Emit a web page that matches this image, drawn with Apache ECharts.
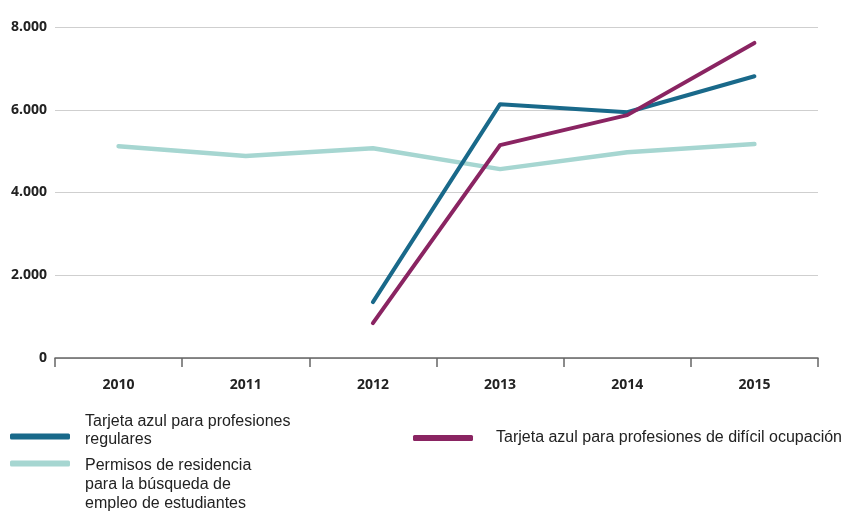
<!DOCTYPE html>
<html>
<head>
<meta charset="utf-8">
<script src="https://cdn.jsdelivr.net/npm/echarts@6/dist/echarts.min.js"></script>
<style>html,body{margin:0;padding:0;background:#fff;}#c{width:845px;height:511px;}</style>
</head>
<body>
<div id="c"></div>
<script>
var years = ['2010', '2011', '2012', '2013', '2014', '2015'];
var seriesNames = [
  'Tarjeta azul para profesiones regulares',
  'Permisos de residencia para la búsqueda de empleo de estudiantes',
  'Tarjeta azul para profesiones de difícil ocupación'
];
var regulares = [null, null, 1350, 6135, 5940, 6810];
var estudiantes = [5120, 4880, 5070, 4565, 4975, 5170];
var dificil = [null, null, 845, 5145, 5870, 7615];
var yTicks = [0, 2000, 4000, 6000, 8000];

var colBlue = '#19698a', colTeal = '#a6d6d1', colPurple = '#8a2462';
var legendLabels = {};
legendLabels[seriesNames[0]] = '{t|Tarjeta azul para profesiones}\n{t|regulares}\n{s| }';
legendLabels[seriesNames[1]] = '{s2| }\n{t2|Permisos de residencia}\n{t2|para la búsqueda de}\n{t2|empleo de estudiantes}';
legendLabels[seriesNames[2]] = 'Tarjeta azul para profesiones de difícil ocupación';

var baseText = { fontFamily: 'Liberation Sans', fontSize: 16, color: '#222' };
function legendCfg(name, left, top, pad, lh) {
  return {
    data: [name], left: left, top: top, padding: 0,
    icon: 'roundRect', itemWidth: 60, itemHeight: 6,
    formatter: function (n) { return legendLabels[n]; },
    textStyle: {
      fontFamily: 'Liberation Sans', fontSize: 16, color: '#222', lineHeight: lh, padding: pad,
      rich: {
        t: Object.assign({ lineHeight: 18 }, baseText),
        s: Object.assign({ lineHeight: 11 }, baseText),
        t2: Object.assign({ lineHeight: 19 }, baseText),
        s2: Object.assign({ lineHeight: 42 }, baseText)
      }
    },
    selectedMode: false
  };
}

var chart = echarts.init(document.getElementById('c'), null, { renderer: 'canvas' });
chart.setOption({
  backgroundColor: '#fff',
  animation: false,
  grid: { left: 55, right: 27, top: 27, bottom: 153, containLabel: false },
  legend: [
    legendCfg(seriesNames[0], 10, 413, [0, 0, 0, 10], 18),
    legendCfg(seriesNames[1], 10, 414, [0, 0, 0, 10], 19),
    legendCfg(seriesNames[2], 413, 429, [0, 0, 0, 18], 18)
  ],
  xAxis: {
    type: 'category', data: years, boundaryGap: true,
    axisLine: { lineStyle: { color: '#666', width: 1.5 } },
    axisTick: { show: true, length: 9, lineStyle: { color: '#666', width: 1.5 } },
    axisLabel: { fontFamily: 'Open Sans', fontWeight: 'bold', fontSize: 14, color: '#222', margin: 20 },
    splitLine: { show: false }
  },
  yAxis: {
    type: 'value', min: yTicks[0], max: yTicks[yTicks.length - 1], interval: 2000,
    axisLine: { show: false }, axisTick: { show: false },
    axisLabel: {
      fontFamily: 'Open Sans', fontWeight: 'bold', fontSize: 14, color: '#222', margin: 8,
      formatter: function (v) { return String(v).replace(/\B(?=(\d{3})+(?!\d))/g, '.'); }
    },
    splitLine: { lineStyle: { color: '#cfcfcf', width: 1.2 } }
  },
  series: [
    { name: seriesNames[1], type: 'line', data: estudiantes, showSymbol: false, symbol: 'none',
      lineStyle: { color: colTeal, width: 4.5, cap: 'round', join: 'round' }, itemStyle: { color: colTeal }, z: 1 },
    { name: seriesNames[0], type: 'line', data: regulares, showSymbol: false, symbol: 'none',
      lineStyle: { color: colBlue, width: 4, cap: 'round', join: 'round' }, itemStyle: { color: colBlue }, z: 2 },
    { name: seriesNames[2], type: 'line', data: dificil, showSymbol: false, symbol: 'none',
      lineStyle: { color: colPurple, width: 4, cap: 'round', join: 'round' }, itemStyle: { color: colPurple }, z: 3 }
  ]
});
</script>
</body>
</html>
